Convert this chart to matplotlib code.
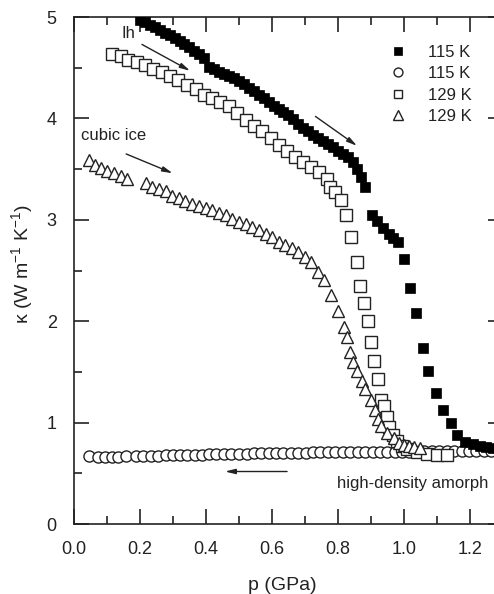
import numpy as np
import matplotlib.pyplot as plt
from matplotlib.ticker import MultipleLocator

plt.rcParams['font.family'] = ['Liberation Sans', 'DejaVu Sans']
plt.rcParams['mathtext.default'] = 'regular'

# 115 K, compression (filled squares)
p_115c = [0.200, 0.215, 0.230, 0.245, 0.260, 0.275, 0.290, 0.305, 0.320, 0.335,
          0.350, 0.365, 0.380, 0.395, 0.410, 0.425, 0.440, 0.455, 0.470, 0.485,
          0.500, 0.515, 0.530, 0.545, 0.560, 0.575, 0.590, 0.605, 0.620, 0.635,
          0.650, 0.665, 0.680, 0.695, 0.710, 0.725, 0.740, 0.755, 0.770, 0.785,
          0.800, 0.815, 0.830, 0.845, 0.858, 0.870, 0.882, 0.903, 0.918, 0.936,
          0.955, 0.967, 0.982, 1.000, 1.018, 1.036, 1.058, 1.073, 1.097, 1.118,
          1.142, 1.160, 1.185, 1.21, 1.23, 1.25, 1.27, 1.29]
k_115c = [4.97, 4.95, 4.92, 4.90, 4.87, 4.84, 4.82, 4.79, 4.76, 4.73,
          4.70, 4.67, 4.64, 4.60, 4.51, 4.49, 4.46, 4.44, 4.42, 4.40,
          4.37, 4.34, 4.30, 4.27, 4.23, 4.20, 4.16, 4.12, 4.09, 4.06,
          4.03, 3.99, 3.95, 3.91, 3.88, 3.84, 3.81, 3.78, 3.75, 3.72,
          3.68, 3.65, 3.62, 3.57, 3.50, 3.42, 3.32, 3.05, 2.99, 2.92,
          2.86, 2.82, 2.78, 2.61, 2.33, 2.08, 1.74, 1.51, 1.29, 1.12,
          1.00, 0.88, 0.81, 0.79, 0.77, 0.76, 0.75, 0.74]

# 115 K, decompression of HDA (open circles)
p_115d = [0.046, 0.074, 0.094, 0.114, 0.134, 0.158, 0.188, 0.210, 0.232, 0.256,
          0.278, 0.299, 0.321, 0.344, 0.367, 0.389, 0.41, 0.432, 0.455, 0.477,
          0.50, 0.523, 0.545, 0.567, 0.59, 0.612, 0.635, 0.657, 0.68, 0.702,
          0.725, 0.747, 0.77, 0.792, 0.815, 0.837, 0.86, 0.882, 0.905, 0.927,
          0.95, 0.972, 0.995, 1.017, 1.04, 1.062, 1.085, 1.107, 1.13, 1.152,
          1.175, 1.197, 1.22, 1.242, 1.265, 1.287]
k_115d = [0.67, 0.66, 0.66, 0.66, 0.66, 0.67, 0.67, 0.67, 0.67, 0.67,
          0.68, 0.68, 0.68, 0.68, 0.68, 0.68, 0.69, 0.69, 0.69, 0.69,
          0.69, 0.69, 0.70, 0.70, 0.70, 0.70, 0.70, 0.70, 0.70, 0.70,
          0.71, 0.71, 0.71, 0.71, 0.71, 0.71, 0.71, 0.71, 0.71, 0.71,
          0.71, 0.71, 0.71, 0.71, 0.71, 0.72, 0.72, 0.72, 0.72, 0.72,
          0.72, 0.72, 0.72, 0.72, 0.72, 0.72]

# 129 K, ice Ih (open squares)
p_129h = [0.116, 0.141, 0.165, 0.19, 0.215, 0.24, 0.266, 0.291, 0.316, 0.343,
          0.369, 0.394, 0.419, 0.444, 0.47, 0.495, 0.52, 0.545, 0.571, 0.596,
          0.621, 0.645, 0.67, 0.695, 0.72, 0.743, 0.766, 0.776, 0.791, 0.809,
          0.824, 0.841, 0.857, 0.867, 0.88, 0.89, 0.90, 0.91, 0.922, 0.932,
          0.94, 0.948, 0.955, 0.968, 0.98, 0.995, 1.01, 1.04, 1.07, 1.10,
          1.13]
k_129h = [4.64, 4.62, 4.58, 4.56, 4.53, 4.49, 4.46, 4.42, 4.38, 4.33,
          4.29, 4.23, 4.20, 4.16, 4.12, 4.05, 3.98, 3.93, 3.88, 3.81,
          3.74, 3.68, 3.62, 3.57, 3.52, 3.47, 3.40, 3.32, 3.27, 3.20,
          3.05, 2.83, 2.58, 2.35, 2.18, 2.00, 1.80, 1.61, 1.43, 1.22,
          1.16, 1.06, 0.96, 0.88, 0.82, 0.77, 0.74, 0.71, 0.69, 0.68,
          0.68]

# 129 K, cubic ice (open triangles)
p_129c = [0.045, 0.063, 0.081, 0.101, 0.121, 0.141, 0.162, 0.217, 0.237, 0.258,
          0.278, 0.298, 0.318, 0.338, 0.359, 0.379, 0.399, 0.419, 0.439, 0.46,
          0.48, 0.50, 0.52, 0.54, 0.561, 0.581, 0.601, 0.621, 0.639, 0.66,
          0.68, 0.70, 0.718, 0.74, 0.759, 0.779, 0.801, 0.818, 0.828, 0.838,
          0.847, 0.858, 0.872, 0.882, 0.899, 0.912, 0.922, 0.932, 0.948, 0.97,
          0.985, 1.0, 1.015, 1.03, 1.05]
k_129c = [3.59, 3.54, 3.51, 3.48, 3.46, 3.43, 3.40, 3.36, 3.32, 3.30,
          3.28, 3.24, 3.22, 3.19, 3.16, 3.14, 3.12, 3.10, 3.07, 3.05,
          3.01, 2.98, 2.96, 2.93, 2.90, 2.86, 2.83, 2.78, 2.75, 2.72,
          2.68, 2.63, 2.58, 2.49, 2.41, 2.26, 2.10, 1.94, 1.84, 1.70,
          1.60, 1.51, 1.41, 1.33, 1.22, 1.12, 1.04, 0.97, 0.90, 0.85,
          0.80, 0.78, 0.77, 0.76, 0.75]

legend_labels = ['115 K', '115 K', '129 K', '129 K']

ink = '#222222'

fig = plt.figure(figsize=(4.94, 5.94), dpi=100)
ax = fig.add_axes([0.1498, 0.1178, 0.868, 0.8535])

ax.plot(p_115d, k_115d, 'o', ms=8, mfc='white', mec=ink, mew=1.0,
        label=legend_labels[1], zorder=2)
ax.plot(p_129h, k_129h, 's', ms=8, mfc='white', mec=ink, mew=1.0,
        label=legend_labels[2], zorder=3)
ax.plot(p_129c, k_129c, '^', ms=8.5, mfc='white', mec=ink, mew=1.0,
        label=legend_labels[3], zorder=4)
ax.plot(p_115c, k_115c, 's', ms=7.5, mfc='black', mec='black', mew=0.5,
        label=legend_labels[0], zorder=5)

# arrows showing the pressure direction
arrow = dict(arrowstyle='-|>,head_length=0.6,head_width=0.15', color=ink, lw=1.0,
             shrinkA=0, shrinkB=0)
ax.annotate('', xy=(0.352, 4.47), xytext=(0.206, 4.73), arrowprops=arrow)
ax.annotate('', xy=(0.858, 3.73), xytext=(0.732, 4.02), arrowprops=arrow)
ax.annotate('', xy=(0.299, 3.46), xytext=(0.158, 3.65), arrowprops=arrow)
ax.annotate('', xy=(0.458, 0.518), xytext=(0.646, 0.518), arrowprops=arrow)

ax.text(0.145, 4.84, 'Ih', fontsize=12, color=ink, ha='left', va='center')
ax.text(0.021, 3.83, 'cubic ice', fontsize=12, color=ink, ha='left', va='center')
ax.text(0.796, 0.40, 'high-density amorph', fontsize=12, color=ink,
        ha='left', va='center')

ax.set_xlim(0, 1.30)
ax.set_ylim(0, 5)
ax.xaxis.set_major_locator(MultipleLocator(0.2))
ax.xaxis.set_minor_locator(MultipleLocator(0.1))
ax.yaxis.set_major_locator(MultipleLocator(1))
ax.yaxis.set_minor_locator(MultipleLocator(0.5))
ax.xaxis.set_major_formatter(plt.FuncFormatter(lambda v, _: f'{v:.1f}'))

ax.tick_params(which='both', direction='in', top=True, right=True,
               colors=ink, labelcolor=ink, width=1.2)
ax.tick_params(which='major', length=11, pad=12.5, labelsize=13)
ax.tick_params(which='minor', length=5.5)
for s in ax.spines.values():
    s.set_linewidth(1.2)
    s.set_color(ink)

ax.set_xlabel('p (GPa)', fontsize=14, color=ink)
ax.set_ylabel(r'κ (W m$^{-1}$ K$^{-1}$)', fontsize=14, color=ink)
ax.xaxis.set_label_coords(0.485, -0.104)
ax.yaxis.set_label_coords(-0.092, 0.513)

handles, labels = ax.get_legend_handles_labels()
order = [3, 0, 1, 2]
ax.legend([handles[i] for i in order], [labels[i] for i in order],
          loc='upper left', bbox_to_anchor=(0.736, 0.945), frameon=False,
          fontsize=12, markerscale=0.8, handlelength=1.0, handletextpad=1.3,
          labelspacing=0.38, borderpad=0, borderaxespad=0, labelcolor=ink)

fig.savefig('out.png', dpi=100)
